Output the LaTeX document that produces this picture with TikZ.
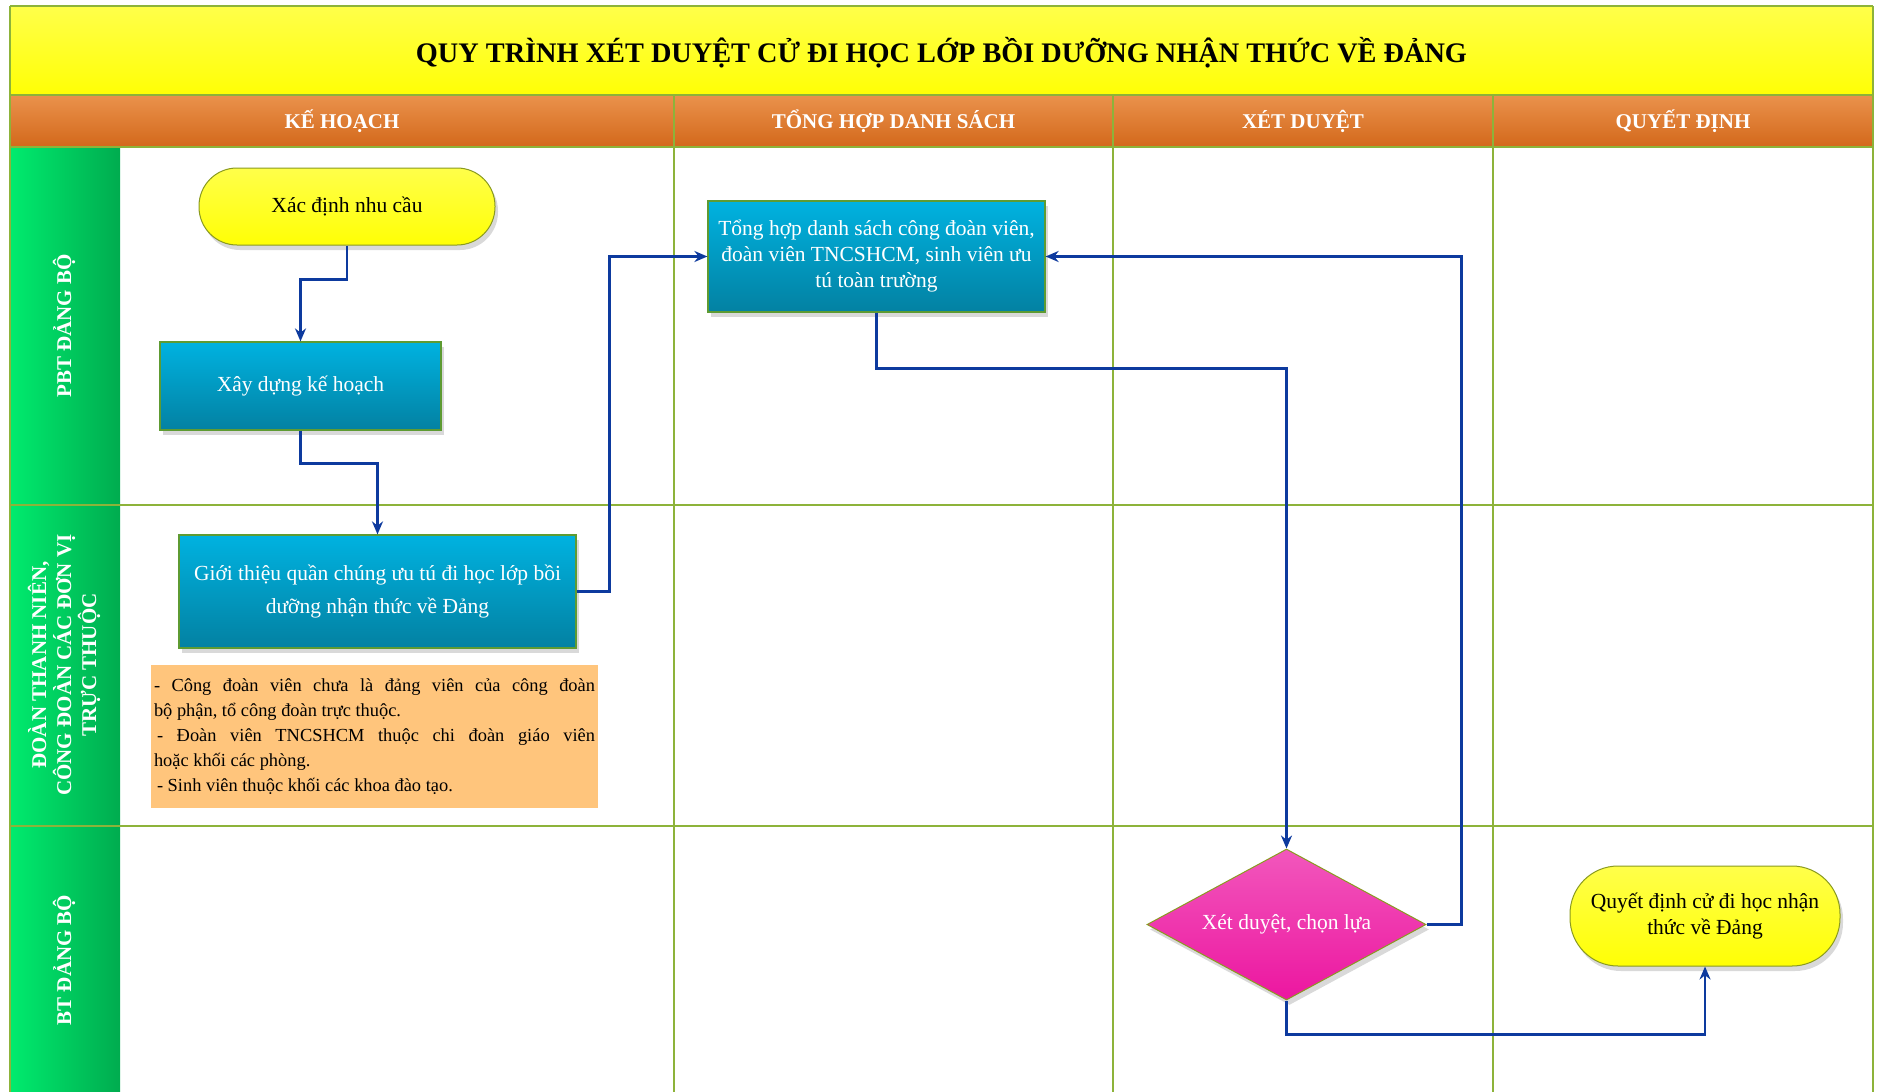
\documentclass[tikz,border=0pt]{standalone}
\usepackage{fontspec}
\setmainfont{Liberation Serif}
\usepackage{tikz}
\usetikzlibrary{arrows.meta,shapes.geometric,shadows}

\definecolor{gridgreen}{HTML}{8DB33A}
\definecolor{titletop}{HTML}{FFFF4A}
\definecolor{titlebot}{HTML}{FFFF05}
\definecolor{headtop}{HTML}{EA924C}
\definecolor{headbot}{HTML}{D3681B}
\definecolor{lanel}{HTML}{00EB6E}
\definecolor{laner}{HTML}{00AC4F}
\definecolor{boxtop}{HTML}{00B2E0}
\definecolor{boxbot}{HTML}{0381A2}
\definecolor{boxline}{HTML}{5E9B32}
\definecolor{termline}{HTML}{8A9A20}
\definecolor{pinktop}{HTML}{F257BC}
\definecolor{pinkbot}{HTML}{EC16A0}
\definecolor{notefill}{HTML}{FFC57C}
\definecolor{flowblue}{HTML}{0D3A9E}

\newcommand\bodyfont{\fontsize{21.5}{26}\selectfont}
\newcommand\headfont{\bfseries\fontsize{21}{25}\selectfont}

\tikzset{
  gridline/.style={draw=gridgreen,line width=1.5pt},
  shadowed/.style={drop shadow={shadow xshift=3pt,shadow yshift=-5pt,opacity=.3}},
  procbox/.style={rectangle,draw=boxline,line width=1.2pt,top color=boxtop,bottom color=boxbot,
    text=white,align=center,inner sep=0pt,font=\bodyfont,shadowed},
  termbox/.style={rectangle,draw=termline,line width=1pt,top color=titletop,bottom color=titlebot,
    align=center,inner sep=0pt,font=\bodyfont,shadowed},
  decision/.style={diamond,aspect=1.85,draw=termline,line width=1pt,top color=pinktop,bottom color=pinkbot,
    text=white,inner sep=0pt,font=\bodyfont,shadowed},
  lanelabel/.style={rotate=90,text=white,align=center,font=\headfont},
  flow/.style={draw=flowblue,line width=2.4pt,-{Stealth[length=13pt,width=11pt]}}
}

\begin{document}
\begin{tikzpicture}[x=1pt,y=-1pt]
\useasboundingbox (0,0) rectangle (1877,1092);
% Title band
\shade[top color=titletop,bottom color=titlebot] (10,6) rectangle (1873,95);
\node[font=\bfseries\fontsize{28.3}{34}\selectfont] (title) at (941.5,53)
  {QUY TRÌNH XÉT DUYỆT CỬ ĐI HỌC LỚP BỒI DƯỠNG NHẬN THỨC VỀ ĐẢNG};
% Column headers
\shade[top color=headtop,bottom color=headbot] (10,95) rectangle (1873,147);
\node[text=white,font=\headfont] (hd1) at (342,121) {KẾ HOẠCH};
\node[text=white,font=\headfont] (hd2) at (893.5,121) {TỔNG HỢP DANH SÁCH};
\node[text=white,font=\headfont] (hd3) at (1303,121) {XÉT DUYỆT};
\node[text=white,font=\headfont] (hd4) at (1683,121) {QUYẾT ĐỊNH};
% Lane names
\shade[left color=lanel,right color=laner] (10,147) rectangle (120,1092);
\node[lanelabel] (ln1) at (64,326) {PBT ĐẢNG BỘ};
\node[lanelabel] (ln2) at (64,665) {ĐOÀN THANH NIÊN,\\CÔNG ĐOÀN CÁC ĐƠN VỊ\\TRỰC THUỘC};
\node[lanelabel] (ln3) at (64,960) {BT ĐẢNG BỘ};
% Grid
\foreach \y in {6,95,147,505,826}
  \draw[gridline] (10,\y) -- (1873,\y);
\foreach \x in {10,1873}
  \draw[gridline] (\x,6) -- (\x,1092);
\foreach \x in {674,1113,1493}
  \draw[gridline] (\x,95) -- (\x,1092);
% Steps
\node[termbox,rounded corners=38pt,minimum width=296pt,minimum height=77pt] (xd) at (347,206.5)
  {Xác định nhu cầu};
\node[procbox,minimum width=281pt,minimum height=88pt] (xk) at (300.5,386) {Xây dựng kế hoạch};
\node[procbox,minimum width=397pt,minimum height=113pt,
  font=\fontsize{21.5}{33}\selectfont] (gt) at (377.5,591.5)
  {Giới thiệu quần chúng ưu tú đi học lớp bồi\\dưỡng nhận thức về Đảng};
\node[fill=notefill,minimum width=447pt,minimum height=143pt,inner sep=0pt,text width=441pt,
  align=justify,font=\fontsize{18.4}{25}\selectfont] (note) at (374.5,736.5)
  {- Công đoàn viên chưa là đảng viên của công đoàn\linebreak bộ phận, tổ công đoàn trực thuộc.\\
  \hspace*{3pt}- Đoàn viên TNCSHCM thuộc chi đoàn giáo viên\linebreak hoặc khối các phòng.\\
  \hspace*{3pt}- Sinh viên thuộc khối các khoa đào tạo.};
\node[procbox,minimum width=337pt,minimum height=111pt] (th) at (876.5,256.5)
  {Tổng hợp danh sách công đoàn viên,\\đoàn viên TNCSHCM, sinh viên ưu\\tú toàn trường};
\node[decision,minimum width=279pt,minimum height=151pt] (dz) at (1286.5,924.5) {Xét duyệt, chọn lựa};
\node[termbox,rounded corners=48pt,minimum width=270pt,minimum height=100pt]
  (qd) at (1705,916) {Quyết định cử đi học nhận\\thức về Đảng};
% Connectors
\draw[flow] (xd.south) -- ++(0,34) -| (xk.north);
\draw[flow] (xk.south) -- ++(0,33) -| (gt.north);
\draw[flow] (gt.east) -- ++(33,0) |- (th.west);
\draw[flow] (th.south) -- ++(0,56) -| (dz.north);
\draw[flow] (dz.east) -- ++(35,0) |- (th.east);
\draw[flow] (dz.south) -- ++(0,34) -| (qd.south);
\end{tikzpicture}
\end{document}
